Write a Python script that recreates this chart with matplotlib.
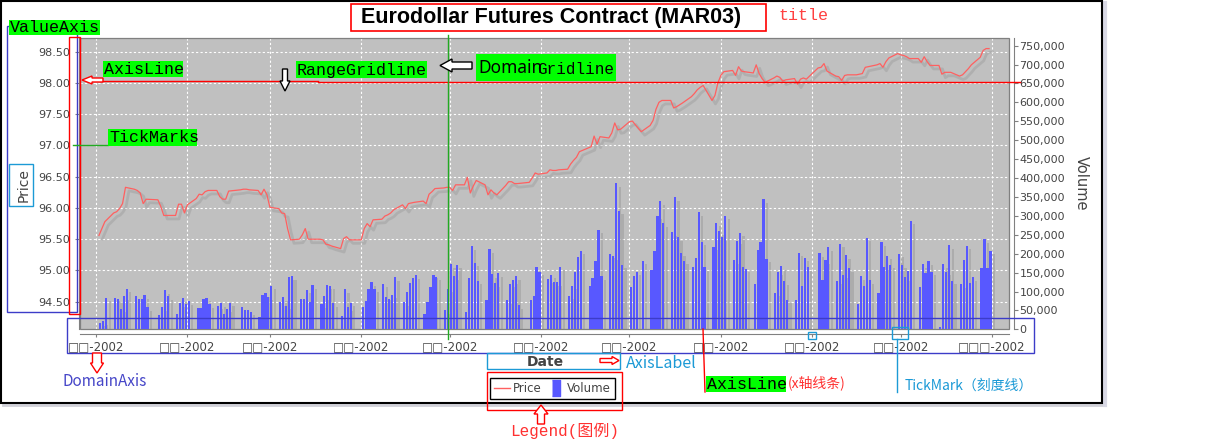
import matplotlib
matplotlib.use("Agg")
import matplotlib.pyplot as plt
import matplotlib.dates as mdates
import matplotlib.patheffects as pe
from matplotlib.patches import Rectangle, Polygon
from matplotlib.lines import Line2D
from matplotlib.transforms import Affine2D
import numpy as np
import pandas as pd

W, H = 1223, 448

# ---- data -------------------------------------------------------------
holidays = ['2002-01-21', '2002-02-18', '2002-03-29', '2002-05-27',
            '2002-07-04', '2002-09-02']
dates = pd.bdate_range('2002-01-02', '2002-10-31').difference(pd.to_datetime(holidays))

price = [
    95.56, 95.67, 95.78,
    95.92, 95.94, 95.99, 96.07, 96.33,
    96.30, 96.28, 96.24, 96.07, 96.14,
    96.13, 96.02, 95.88, 95.88,
    95.88, 96.06, 96.06, 95.92, 96.05,
    96.15, 96.22, 96.21, 96.26, 96.28,
    96.28, 96.18, 96.14, 96.14, 96.27,
    96.29, 96.30, 96.30, 96.29,
    96.28, 96.21, 96.30, 96.21, 96.01,
    95.99, 95.92, 95.91, 95.67, 95.49,
    95.50, 95.57, 95.67, 95.50, 95.50,
    95.50, 95.49, 95.42, 95.41, 95.39,
    95.35, 95.51, 95.54, 95.49,
    95.49, 95.67, 95.75, 95.70, 95.81,
    95.82, 95.87, 95.89, 95.92, 95.97,
    96.05, 95.99, 96.07, 96.08, 96.09,
    96.11, 96.07, 96.22, 96.26, 96.31,
    96.32, 96.33, 96.33, 96.28, 96.37,
    96.37, 96.49, 96.24, 96.35, 96.44,
    96.37, 96.21, 96.29, 96.24, 96.21,
    96.36, 96.42, 96.42, 96.39, 96.39,
    96.41, 96.48, 96.56, 96.54,
    96.56, 96.61, 96.60, 96.60, 96.61,
    96.62, 96.70, 96.76, 96.81, 96.90,
    96.96, 96.98, 97.15, 97.02, 97.14,
    97.12, 97.20, 97.36, 97.25, 97.26,
    97.38, 97.39, 97.33, 97.22,
    97.32, 97.40, 97.58, 97.69, 97.72,
    97.72, 97.60, 97.62, 97.65, 97.68,
    97.78, 97.83, 97.89, 97.93, 97.96,
    97.72, 97.80, 98.00, 98.12, 98.18,
    98.20, 98.12, 98.26, 98.19, 98.18,
    98.16, 98.29, 98.15, 98.07, 98.01,
    98.08, 98.11, 98.09, 98.03, 98.05,
    98.07, 97.98, 98.06, 98.08, 98.06,
    98.24, 98.25, 98.31, 98.19,
    98.11, 98.10, 98.04, 98.12, 98.13,
    98.13, 98.14, 98.15, 98.25, 98.26,
    98.29, 98.31, 98.25, 98.34, 98.40,
    98.47, 98.45, 98.44, 98.42, 98.39,
    98.39, 98.33, 98.42, 98.34, 98.28,
    98.28, 98.14, 98.17, 98.17, 98.17,
    98.11, 98.13, 98.18, 98.23, 98.29,
    98.41, 98.52, 98.55, 98.55,
]

# volume in thousands of contracts
volume_k = [
    18, 22, 84,
    83, 81, 54, 88, 108,
    87, 80, 81, 90, 58,
    38, 58, 103, 88,
    40, 69, 82, 66, 74,
    57, 57, 81, 83, 66,
    62, 69, 40, 54, 70,
    59, 52, 50, 47,
    33, 90, 96, 86, 115,
    72, 85, 63, 139, 140,
    81, 81, 105, 73, 117,
    66, 88, 117, 115, 69,
    35, 106, 59, 70,
    59, 76, 108, 124, 108,
    120, 86, 80, 91, 138,
    72, 100, 122, 137, 143,
    41, 72, 111, 145, 139,
    51, 107, 172, 141, 171,
    47, 137, 220, 176, 129,
    79, 212, 146, 122, 148,
    77, 120, 130, 141, 64,
    79, 87, 165, 152,
    133, 145, 125, 125, 166,
    89, 115, 151, 192, 208,
    116, 137, 182, 263, 141,
    199, 193, 386, 314, 171,
    111, 141, 152, 182,
    157, 206, 301, 339, 281,
    257, 349, 244, 202, 182,
    165, 189, 309, 232, 164,
    218, 282, 260, 244, 300,
    183, 234, 255, 166, 160,
    119, 210, 232, 344, 187,
    97, 152, 167, 127, 79,
    79, 202, 115, 189, 164,
    201, 130, 183, 217,
    129, 226, 145, 196, 161,
    66, 141, 116, 242, 130,
    95, 230, 165, 194, 171,
    200, 171, 138, 155, 287,
    113, 172, 148, 180, 153,
    6, 172, 152, 223, 128,
    119, 183, 221, 122, 138,
    162, 238, 162, 208,
]
volume = np.array(volume_k) * 1000

month_ticks = pd.date_range('2002-01-01', '2002-11-01', freq='MS')
month_labels = ['□□-2002'] * 10 + ['□□□-2002']
price_ticks = np.arange(94.5, 98.51, 0.5)
volume_ticks = np.arange(0, 750001, 50000)

title = 'Eurodollar Futures Contract (MAR03)'

# ---- figure -----------------------------------------------------------
fig = plt.figure(figsize=(W / 100, H / 100), dpi=100)
fig.patch.set_facecolor('white')
P = Affine2D().scale(1 / W, -1 / H).translate(0, 1) + fig.transFigure

GRAY_TXT = '#444444'
AX_GRAY = '#808080'

ax = fig.add_axes([80 / W, 1 - 329.4 / H, 929 / W, 291.7 / H])
ax.set_facecolor('#c0c0c0')
ax2 = ax.twinx()
ax2.patch.set_visible(False)

xd = mdates.date2num(dates)
ax2.bar(xd + 0.1, volume, width=0.75, align='edge', color='#5858ff', linewidth=0,
        path_effects=[pe.SimplePatchShadow(offset=(2.5, -2.5), shadow_rgbFace='#808080', alpha=0.3),
                      pe.Normal()])
ax.plot(dates, price, color='#ff6060', linewidth=0.9,
        path_effects=[pe.SimpleLineShadow(offset=(2.5, -2.5), shadow_color='#808080',
                                          alpha=0.25, linewidth=2.0), pe.Normal()])

x0 = mdates.date2num(pd.Timestamp('2002-01-01')) - 5.43
x1 = mdates.date2num(pd.Timestamp('2002-11-01')) + 5.77
ax.set_xlim(x0, x1)
ax.set_ylim(94.057, 98.724)
ax2.set_ylim(0, 771000)

ax.set_xticks(month_ticks)
ax.set_xticklabels(month_labels)
ax.set_yticks(price_ticks)
ax.set_yticklabels(['%.2f' % v for v in price_ticks])
ax2.set_yticks(volume_ticks)
ax2.set_yticklabels(['{:,}'.format(int(v)) for v in volume_ticks])

ax.grid(True, color='white', linestyle=(0, (2, 2)), linewidth=0.8)
ax.set_axisbelow(True)

for s in ['top', 'right']:
    ax.spines[s].set_visible(False)
for s in ['top', 'left', 'bottom']:
    ax2.spines[s].set_visible(False)
ax.spines['left'].set_color(AX_GRAY)
ax.spines['left'].set_position(('outward', 1))
ax.spines['bottom'].set_color(AX_GRAY)
ax.spines['bottom'].set_position(('outward', 3))
ax2.spines['right'].set_color(AX_GRAY)
ax2.spines['right'].set_position(('outward', 3.6))

ax.tick_params(axis='y', length=3, width=0.8, color=AX_GRAY, labelcolor=GRAY_TXT,
               labelsize=8, pad=3)
ax.tick_params(axis='x', length=2.5, width=0.8, color=AX_GRAY, labelcolor=GRAY_TXT,
               labelsize=8.5, pad=2)
ax2.tick_params(axis='y', length=3, width=0.8, color=AX_GRAY, labelcolor=GRAY_TXT,
                labelsize=8, pad=1)

ax.add_patch(Rectangle((0, 0), 1, 1, transform=ax.transAxes, fill=False,
                       edgecolor=AX_GRAY, linewidth=0.9, clip_on=False, zorder=10))

# titles / axis labels
fig.text(551.5, 17.5, title, transform=P, ha='center', va='center',
         family='Liberation Sans', weight='bold', fontsize=15.5, color='black')
fig.text(24, 185, 'Price', transform=P, ha='center', va='center', rotation=90,
         fontsize=10, color=GRAY_TXT)
fig.text(1081, 183, 'Volume', transform=P, ha='center', va='center', rotation=270,
         fontsize=10.5, color=GRAY_TXT)
fig.text(545, 361.5, 'Date', transform=P, ha='center', va='center',
         fontsize=10, weight='bold', color=GRAY_TXT)

h_price = Line2D([], [], color='#ff6060', linewidth=1)
h_vol = Line2D([], [], linestyle='none', color='#5858ff',
               marker=[(-0.5, -1), (0.5, -1), (0.5, 1), (-0.5, 1)], markersize=11)
leg = fig.legend(handles=[h_price, h_vol], labels=['Price', 'Volume'], loc='center',
                 bbox_to_anchor=(552.5 / W, 1 - 388.5 / H), ncol=2, frameon=True,
                 fancybox=False, edgecolor='black', framealpha=1, fontsize=8.5,
                 handlelength=1.3, handletextpad=0.3, columnspacing=0.5,
                 borderpad=0.35, labelcolor=GRAY_TXT)
leg.get_frame().set_linewidth(1.0)


# ---- annotation overlay ----------------------------------------------
MONO = 'Liberation Mono'
CJK = ['Noto Sans CJK SC', 'DejaVu Sans']
RED = '#ff0000'
BLUE = '#3c3cc8'
CYAN = '#1c9ad6'
GREEN = '#00ff00'
GLINE = '#22aa22'


def rect(xa, ya, xb, yb, color, lw=1.0, fc='none', z=20):
    fig.add_artist(Rectangle((xa, ya), xb - xa, yb - ya, transform=P,
                             edgecolor=color, facecolor=fc, linewidth=lw, zorder=z))


def seg(pts, color, lw=1.0, z=21):
    xs, ys = zip(*pts)
    fig.add_artist(Line2D(xs, ys, transform=P, color=color, linewidth=lw, zorder=z))


def arrow(tail, tip, shaft, head, hlen, color, lw=1.0, z=22):
    t = np.array(tail, float)
    p = np.array(tip, float)
    d = (p - t) / np.linalg.norm(p - t)
    n = np.array([-d[1], d[0]])
    b = p - d * hlen
    pts = [t + n * shaft / 2, b + n * shaft / 2, b + n * head / 2, p,
           b - n * head / 2, b - n * shaft / 2, t - n * shaft / 2]
    fig.add_artist(Polygon(pts, closed=True, transform=P, edgecolor=color,
                           facecolor='white', linewidth=lw, zorder=z))


def tag(xa, ya, xb, yb, s, size=12):
    rect(xa, ya, xb, yb, 'none', fc=GREEN, z=24)
    fig.text(xa + 1, (ya + yb) / 2 + 0.5, s, transform=P, ha='left', va='center',
             family=MONO, fontsize=size, color='black', zorder=25)


# outer frame of the annotated image
rect(1, 1, 1102, 403, 'black', lw=1.5, z=19)
seg([(3, 405.5), (1104, 405.5)], '#d0d0d8', lw=2, z=18)
seg([(1104.5, 3), (1104.5, 405)], '#d8d8e4', lw=3, z=18)

# title annotation
rect(351, 4, 766, 31, RED, lw=1.2)
fig.text(778, 16, 'title', transform=P, ha='left', va='center', family=MONO,
         fontsize=12, color='#ff4040', zorder=25)

# value axis
rect(7, 26, 77, 312, BLUE)
tag(9, 20, 100, 35, 'ValueAxis')
rect(69, 37, 80, 314, RED)
rect(9, 164, 33, 206, CYAN)

# axis line (y)
seg([(100, 81.5), (318, 81.5)], RED)
seg([(318, 82.5), (1020, 82.5)], RED)
arrow((103, 80), (82, 80), 4, 8, 10, RED)
tag(103, 61, 183, 77, 'AxisLine')

# range gridline
arrow((285, 69), (285, 91), 5, 10, 10, 'black')
tag(296, 61, 427, 78, 'RangeGridline')

# domain gridline
seg([(448, 35), (448, 339)], GLINE)
arrow((472, 65.5), (440, 65.5), 7, 13, 12, 'black')
rect(476, 54, 616, 81, 'none', fc=GREEN, z=24)
fig.text(478, 68, 'Domain', transform=P, ha='left', va='center',
         family='Noto Sans', fontsize=12.5, color='black', zorder=25)
fig.text(537, 69, 'Gridline', transform=P, ha='left', va='center',
         family=MONO, fontsize=11.5, color='black', zorder=25)

# tick marks
seg([(73, 145), (108, 145)], GLINE)
tag(108, 129, 197, 146, 'TickMarks')

# domain axis
rect(67, 318, 1034, 353, BLUE)
arrow((97, 353), (97, 373), 9, 13, 10, RED)
fig.text(62, 382, 'DomainAxis', transform=P, ha='left', va='center',
         family=CJK, fontsize=11, color='#4646c8', zorder=25)

# axis label
rect(487, 353, 620, 369, CYAN)
arrow((600, 360.5), (619, 360.5), 4, 8, 7, RED)
fig.text(626, 363, 'AxisLabel', transform=P, ha='left', va='center',
         family=CJK, fontsize=11.5, color=CYAN, zorder=25)

# legend
rect(487, 372, 622, 410, RED)
arrow((541, 424), (541, 405), 7, 14, 9, RED)
fig.text(510, 431, 'Legend(图例)', transform=P, ha='left', va='center',
         family=[MONO, 'Noto Sans CJK SC'], fontsize=11.5, color='#ff3030', zorder=25)

# axis line (x)
seg([(703, 329), (705, 392)], RED)
tag(706, 376, 786, 392, 'AxisLine')
fig.text(788, 383, '(x轴线条)', transform=P, ha='left', va='center',
         family=CJK, fontsize=10, color='#ff3030', zorder=25)

# tick mark (x)
rect(892, 327, 908, 339, CYAN)
rect(808, 332, 816, 339, CYAN)
seg([(897, 339), (897, 392)], CYAN)
fig.text(905, 386, 'TickMark（刻度线）', transform=P, ha='left', va='center',
         family=CJK, fontsize=10, color=CYAN, zorder=25)

fig.savefig('out.png', dpi=100)
